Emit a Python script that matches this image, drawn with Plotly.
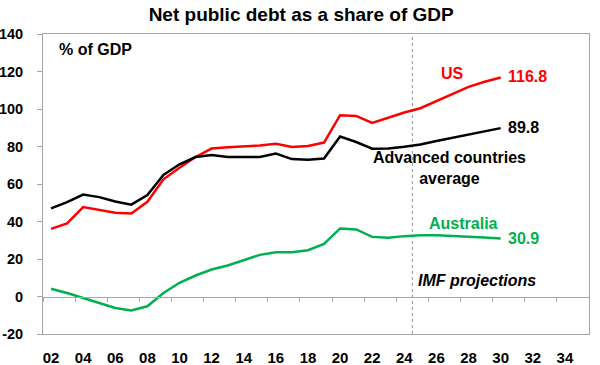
import plotly.graph_objects as go

years = list(range(2002, 2031))
us = [36.1, 39.0, 47.7, 46.4, 44.7, 44.3, 50.5, 62.5, 68.7, 74.4, 78.9, 79.6, 80.1, 80.5,
      81.5, 79.7, 80.3, 82.1, 96.7, 96.3, 92.6, 95.4, 98.1, 100.4, 104.2, 107.9, 111.8, 114.5, 116.8]
advanced = [47.0, 50.3, 54.4, 53.0, 50.7, 49.0, 54.1, 64.8, 70.5, 74.4, 75.5, 74.4, 74.4, 74.4,
            76.2, 73.3, 73.0, 73.6, 85.3, 82.4, 78.8, 78.9, 79.9, 81.1, 82.9, 84.7, 86.5, 88.2, 89.8]
australia = [4.1, 1.9, -0.8, -3.4, -6.1, -7.4, -5.2, 1.9, 7.3, 11.2, 14.4, 16.5, 19.4, 22.2,
             23.6, 23.6, 24.7, 28.1, 36.3, 35.8, 31.8, 31.3, 32.2, 32.7, 32.7, 32.4, 31.9, 31.5, 30.9]

x_tick_years = list(range(2002, 2035, 2))
x_tick_labels = [f"{y % 100:02d}" for y in x_tick_years]
x_boundaries = [y - 0.5 for y in range(2002, 2037, 2)]
y_tick_vals = list(range(-20, 141, 20))
y_tick_labels = [str(v) for v in y_tick_vals]
projection_start = 2024.5
x_range = [2001.5, 2035.5]
y_range = [-20, 140]

RED = "#FF0000"
BLACK = "#000000"
GREEN = "#00B050"
GRID = "#A6A6A6"
FONT = "Liberation Sans, Arial, sans-serif"

fig = go.Figure()
fig.add_trace(go.Scatter(x=years, y=us, mode="lines", line=dict(color=RED, width=2.5), showlegend=False))
fig.add_trace(go.Scatter(x=years, y=advanced, mode="lines", line=dict(color=BLACK, width=2.5), showlegend=False))
fig.add_trace(go.Scatter(x=years, y=australia, mode="lines", line=dict(color=GREEN, width=2.5), showlegend=False))
# invisible trace to render the zero-line axis
fig.add_trace(go.Scatter(x=[x_range[0]], y=[0], xaxis="x2", mode="markers",
                         marker=dict(opacity=0), showlegend=False, hoverinfo="skip"))

fig.add_shape(type="line", xref="x", yref="paper", x0=projection_start, x1=projection_start, y0=0, y1=1,
              line=dict(color="#909090", width=1, dash="dot"), layer="below")

def ann(text, x, y, color, xanchor="center", size=16):
    fig.add_annotation(x=x, y=y, xref="x", yref="y", text=text, showarrow=False,
                       font=dict(family=FONT, size=size, color=color), xanchor=xanchor, yanchor="middle")

ann("<b>% of GDP</b>", 2002.4, 131.6, BLACK, xanchor="left")
ann("<b>US</b>", 2027.0, 119.0, RED)
ann("<b>116.8</b>", 2030.35, 117.2, RED, xanchor="left")
ann("<b>89.8</b>", 2030.35, 90.1, BLACK, xanchor="left")
ann("<b>Advanced countries<br>average</b>", 2026.83, 68.4, BLACK)
ann("<b>Australia</b>", 2027.67, 38.8, GREEN)
ann("<b>30.9</b>", 2030.35, 30.8, GREEN, xanchor="left")
ann("<b><i>IMF projections</i></b>", 2028.5, 8.7, BLACK)

fig.update_layout(
    width=600, height=365,
    margin=dict(l=43, r=11, t=34, b=31),
    paper_bgcolor="white", plot_bgcolor="white",
    font=dict(family=FONT, color=BLACK),
    title=dict(text="<b>Net public debt as a share of GDP</b>", x=0.502, xref="container", xanchor="center",
               y=1 - 14 / 365, yref="container", yanchor="middle",
               font=dict(family=FONT, size=19, color=BLACK)),
    xaxis=dict(range=x_range, tickvals=x_tick_years, ticktext=x_tick_labels, automargin=False,
               ticks="outside", ticklen=0, ticklabelstandoff=10, showgrid=False, zeroline=False,
               showline=True, mirror=True, linecolor=GRID, linewidth=1,
               tickfont=dict(family=FONT, size=15, color=BLACK, weight="bold")),
    xaxis2=dict(range=x_range, overlaying="x", anchor="free", automargin=False,
                position=(0 - y_range[0]) / (y_range[1] - y_range[0]),
                tickvals=x_boundaries, ticks="outside", ticklen=4, tickcolor=GRID,
                showticklabels=False, showline=True, linecolor=GRID, linewidth=1,
                showgrid=False, zeroline=False),
    yaxis=dict(range=y_range, tickvals=y_tick_vals, ticktext=y_tick_labels, automargin=False,
               ticks="outside", ticklen=5, tickcolor=GRID,
               showline=True, mirror=True, linecolor=GRID, linewidth=1,
               showgrid=False, zeroline=False, ticklabelstandoff=11,
               tickfont=dict(family=FONT, size=14.5, color=BLACK, weight="bold")),
)

fig.write_html("out.html", config={"displayModeBar": False},
               post_script="document.body.style.margin='0';document.body.style.overflow='hidden';")
